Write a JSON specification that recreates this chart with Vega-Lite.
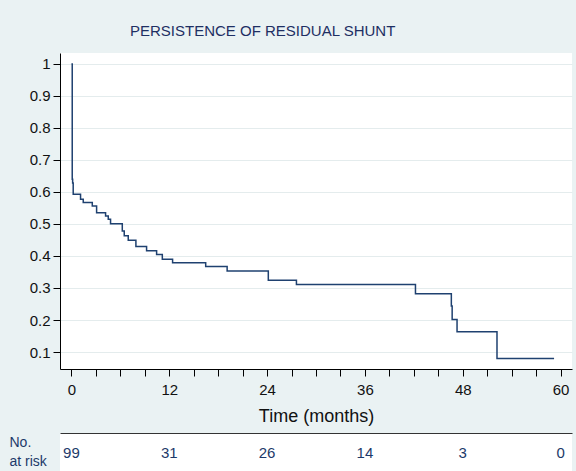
{
  "$schema": "https://vega.github.io/schema/vega-lite/v6.json",
  "background": "#eaf2f3",
  "padding": {"left": 9, "top": 24, "right": 4, "bottom": 0},
  "autosize": {"type": "pad"},
  "spacing": 64,
  "bounds": "flush",
  "config": {"view": {"stroke": null, "fill": "#ffffff"}, "font": "Liberation Sans"},
  "resolve": {"scale": {"x": "shared"}},
  "vconcat": [
    {
      "width": 512,
      "height": 316,
      "title": {
        "text": "PERSISTENCE OF RESIDUAL SHUNT",
        "anchor": "start",
        "frame": "group",
        "dx": 70,
        "offset": 14,
        "fontSize": 15,
        "fontWeight": "normal",
        "color": "#1e2f63",
        "font": "Liberation Sans"
      },
      "data": {
        "values": [
          {"t": 0, "s": 1},
          {"t": 0.1, "s": 0.64},
          {"t": 0.15, "s": 0.628},
          {"t": 0.22, "s": 0.593},
          {"t": 1.12, "s": 0.577},
          {"t": 1.45, "s": 0.567},
          {"t": 2.56, "s": 0.556},
          {"t": 3.09, "s": 0.535},
          {"t": 4.19, "s": 0.525},
          {"t": 4.52, "s": 0.515},
          {"t": 4.8, "s": 0.501},
          {"t": 6.24, "s": 0.478},
          {"t": 6.48, "s": 0.463},
          {"t": 6.97, "s": 0.449},
          {"t": 7.91, "s": 0.43},
          {"t": 9.22, "s": 0.416},
          {"t": 10.45, "s": 0.405},
          {"t": 11.15, "s": 0.39},
          {"t": 12.41, "s": 0.379},
          {"t": 16.47, "s": 0.367},
          {"t": 19.1, "s": 0.353},
          {"t": 24.15, "s": 0.324},
          {"t": 27.6, "s": 0.311},
          {"t": 42.2, "s": 0.282},
          {"t": 46.6, "s": 0.244},
          {"t": 46.7, "s": 0.202},
          {"t": 47.3, "s": 0.163},
          {"t": 52.2, "s": 0.08},
          {"t": 59.2, "s": 0.08}
        ]
      },
      "mark": {"type": "line", "interpolate": "step-after", "color": "#1f4170", "strokeWidth": 1.5},
      "encoding": {
        "x": {
          "field": "t",
          "type": "quantitative",
          "scale": {"domain": [-1.4, 61.4], "nice": false, "zero": false},
          "axis": {
            "values": [0, 3, 6, 9, 12, 15, 18, 21, 24, 27, 30, 33, 36, 39, 42, 45, 48, 51, 54, 57, 60],
            "labelExpr": "datum.value % 12 === 0 ? datum.label : ''",
            "labelOverlap": false,
            "labelFlush": false,
            "grid": false,
            "domainColor": "#000000",
            "tickColor": "#000000",
            "tickSize": 7,
            "labelFontSize": 15,
            "labelColor": "#111111",
            "labelPadding": 6,
            "title": "Time (months)",
            "titleFontSize": 18,
            "titleFontWeight": "normal",
            "titleColor": "#111111",
            "titlePadding": 10
          }
        },
        "y": {
          "field": "s",
          "type": "quantitative",
          "scale": {"domain": [0.047, 1.034], "nice": false, "zero": false},
          "axis": {
            "values": [0.1, 0.2, 0.3, 0.4, 0.5, 0.6, 0.7, 0.8, 0.9, 1],
            "format": ".1~f",
            "grid": true,
            "gridColor": "#e4eced",
            "domainColor": "#000000",
            "tickColor": "#000000",
            "tickSize": 7,
            "labelFontSize": 15,
            "labelColor": "#111111",
            "labelPadding": 3,
            "title": null
          }
        }
      }
    },
    {
      "width": 512,
      "height": 39,
      "data": {
        "values": [
          {"time": 0, "n": 99},
          {"time": 12, "n": 31},
          {"time": 24, "n": 26},
          {"time": 36, "n": 14},
          {"time": 48, "n": 3},
          {"time": 60, "n": 0}
        ]
      },
      "mark": {"type": "text", "fontSize": 15, "color": "#1d3a6a"},
      "encoding": {
        "x": {
          "field": "time",
          "type": "quantitative",
          "scale": {"domain": [-1.4, 61.4], "nice": false, "zero": false},
          "axis": {"orient": "top", "domain": true, "domainColor": "#333333", "ticks": false, "labels": false, "grid": false, "title": null}
        },
        "y": {
          "datum": "risk",
          "type": "nominal",
          "axis": {
            "title": ["No.", "at risk"],
            "titleAngle": 0,
            "titleAlign": "left",
            "titleBaseline": "top",
            "titleX": -51,
            "titleY": 2,
            "titleFontSize": 14,
            "titleFontWeight": "normal",
            "titleColor": "#1d3a6a",
            "titleLineHeight": 19,
            "labels": false,
            "ticks": false,
            "domain": false,
            "grid": false
          }
        },
        "text": {"field": "n", "type": "quantitative"}
      }
    }
  ]
}
